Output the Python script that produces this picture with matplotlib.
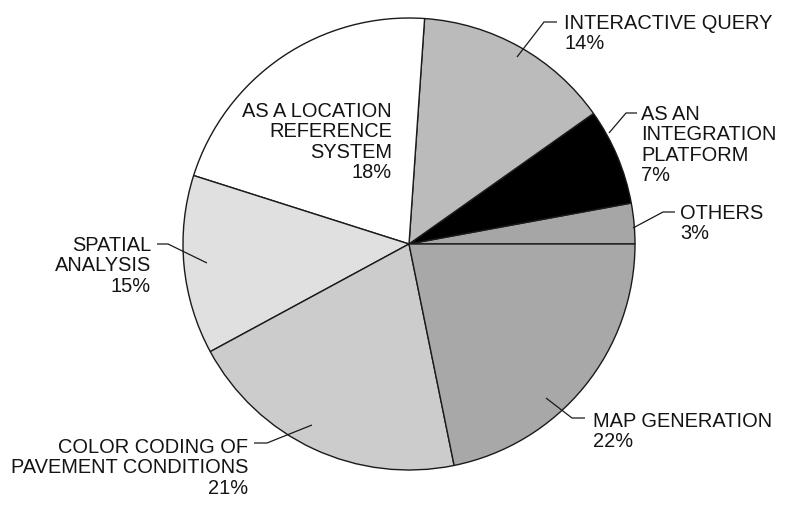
import matplotlib
matplotlib.use('Agg')
import matplotlib.pyplot as plt

# slice order: counter-clockwise from 3 o'clock
categories = ['OTHERS', 'AS AN\nINTEGRATION\nPLATFORM', 'INTERACTIVE QUERY',
              'AS A LOCATION\nREFERENCE\nSYSTEM', 'SPATIAL\nANALYSIS',
              'COLOR CODING OF\nPAVEMENT CONDITIONS', 'MAP GENERATION']
# wedge sizes as drawn in the picture (%)
shares = [2.9, 6.9, 14.1, 21.2, 12.8, 20.3, 21.8]
# percentages as printed on the labels
pct_labels = ['3%', '7%', '14%', '18%', '15%', '21%', '22%']
colors = ['#a6a6a6', '#000000', '#bbbbbb', '#ffffff', '#e0e0e0', '#cccccc', '#a8a8a8']

W, H = 785, 508
plt.rcParams['font.family'] = ['Liberation Sans', 'DejaVu Sans']

fig = plt.figure(figsize=(W / 100, H / 100), dpi=100)
ax = fig.add_axes([0, 0, 1, 1])

cx, cy, r = 409, 244, 226
ax.pie(shares, colors=colors, startangle=0, counterclock=True,
       center=(cx, H - cy), radius=r,
       wedgeprops=dict(edgecolor='#1a1a1a', linewidth=1.0))

ax.set_xlim(0, W)
ax.set_ylim(0, H)
ax.set_aspect('equal')
ax.set_axis_off()

# label placement in image pixels: (x, first baseline, ha, leader path)
layout = [
    (680, 219, 'left', [(633, 228), (663, 212), (675, 212)]),
    (641, 120, 'left', [(609, 133), (626, 113), (637, 113)]),
    (564, 29, 'left', [(517, 57), (544, 22), (557, 22)]),
    (392, 117, 'right', None),
    (151, 251, 'right', [(207, 263), (168, 244), (157, 244)]),
    (248, 453, 'right', [(312, 425), (267, 443), (254, 443)]),
    (593, 427, 'left', [(546, 398), (572, 418), (585, 418)]),
]
line_step = 20.4

for cat, pct, (x, yb, ha, path) in zip(categories, pct_labels, layout):
    txt = cat + '\n' + pct
    # baseline alignment anchors the last line, so move down by the extra lines
    y_last = yb + (txt.count('\n')) * line_step
    ax.text(x, H - y_last, txt, ha=ha, va='baseline',
            multialignment=ha, fontsize=14.4, color='#141414',
            linespacing=1.1)
    if path:
        px = [p[0] for p in path]
        py = [H - p[1] for p in path]
        ax.plot(px, py, color='#1a1a1a', lw=0.9, solid_capstyle='butt')

fig.savefig('out.png', dpi=100)
